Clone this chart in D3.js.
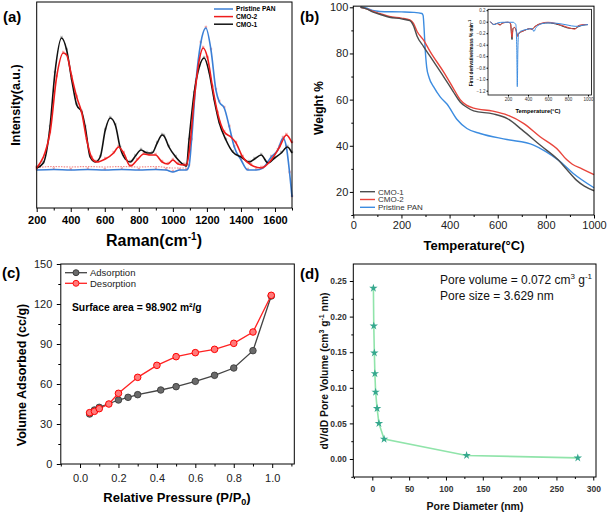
<!DOCTYPE html>
<html><head><meta charset="utf-8">
<script src="https://cdn.jsdelivr.net/npm/d3@7"></script>
<style>body{margin:0;background:#fff}svg{display:block}text{font-family:"Liberation Sans",Arial,sans-serif}</style>
</head><body><svg id="c" width="607" height="513"></svg>
<script>
// ---------- Panel (a) Raman ----------
const a_cmo1_x = [200,239,278,307,346,376,406,435,465,485,514,544,573,603,632,662,691,721,750,780,813,849,878,908,937,948,977,1017,1066,1080,1095,1125,1155,1184,1214,1243,1273,1312,1352,1401,1450,1480,1519,1559,1598,1637,1673,1700];
const a_cmo1_y = [40,45,81,135,170,158,128,103,96,81,51,46,51,78,90,83,60,49,46,52,58,55,55,65,73,72,61,51,43,42,68,115,141,150,135,108,85,68,56,51,46,49,53,45,50,55,61,55];
const a_cmo2_x = [200,278,317,356,376,406,435,465,494,524,553,603,652,681,711,750,790,829,868,898,937,970,1000,1030,1066,1080,1095,1125,1155,1178,1204,1233,1263,1302,1341,1371,1410,1460,1519,1578,1627,1667,1700];
const a_cmo2_y = [40,75,131,155,153,131,111,95,68,50,46,49,55,61,55,42,48,54,53,53,46,44,48,44,43,43,55,108,148,160,150,121,95,76,71,65,51,43,40,48,61,73,65];
const a_pan_x = [200,300,400,500,600,700,800,900,960,1000,1040,1080,1095,1110,1135,1164,1194,1224,1253,1273,1302,1332,1361,1401,1440,1490,1529,1578,1617,1647,1667,1686,1700];
const a_pan_y = [38,38.5,38,38.5,38,38.5,38,38.5,38,36,38,38,42,68,125,165,180,158,118,106,100,81,61,48,38,38,40,51,58,70,61,35,11];
const a_raw_x = [200,300,400,500,600,700,800,900,1000,1080];
const a_raw_y = [40.5,41.5,41,41.5,41,41.5,41,41.5,40,40];
const a_ticks = [200,400,600,800,1000,1200,1400,1600];
const a_minor = [300,500,700,900,1100,1300,1500,1700];
const a_legend = ["Pristine PAN","CMO-2","CMO-1"];

// ---------- Panel (b) TGA ----------
const b_T_cmo1 = [30,55,80,110,150,200,235,250,265,292,320,375,415,444,470,500,580,640,700,776,852,886,928,960,1000];
const b_W_cmo1 = [100,99.3,98,97,95.7,95,94.2,92,87.5,83,78.6,70,63.5,59,56.8,55.1,53.8,51.8,47,40.3,33.8,29.8,25,22.5,20.5];
const b_T_cmo2 = [30,55,80,110,150,200,235,250,265,292,320,375,415,444,470,500,580,640,707,776,852,886,910,950,1000];
const b_W_cmo2 = [100,99.3,98.3,97.3,96,95.3,94.5,93,89.5,85.8,80.7,72,65,60,57.6,56.3,55,53.3,49.7,43.9,38.1,34,32,30,27.5];
const b_T_pan = [30,50,80,110,200,250,285,290,294,298,305,315,334,361,390,430,472,527,638,749,800,852,914,1000];
const b_W_pan = [100,99.8,98.6,98.2,98,97.8,97.3,96.5,91,83,74,69.5,65.5,61.2,58,51.5,47.5,45.3,42.7,40.3,37.5,33.8,28,21.8];
const b_xticks = [0,200,400,600,800,1000];
const b_xminor = [100,300,500,700,900];
const b_yticks = [20,40,60,80,100];
const b_yminor = [10,30,50,70,90];
const b_legend = ["CMO-1","CMO-2","Pristine PAN"];

// ---------- Inset (DTG) ----------
const i_T_pan = [25,60,100,150,200,250,278,288,293,298,305,315,350,400,440,460,480,550,600,700,800,870,900,950,1000];
const i_D_pan = [0,-0.05,-0.02,-0.01,-0.01,-0.01,-0.05,-0.5,-1.13,-0.55,-0.22,-0.18,-0.15,-0.13,-0.12,-0.17,-0.1,-0.03,-0.02,-0.03,-0.06,-0.08,-0.08,-0.06,-0.05];
const i_T_cmo = [25,60,90,120,150,200,225,240,250,265,280,296,310,340,380,420,440,460,500,600,700,800,870,900,950,1000];
const i_D_cmo2 = [0,-0.05,-0.03,-0.06,-0.02,-0.01,-0.03,-0.27,-0.12,-0.1,-0.15,-0.26,-0.2,-0.17,-0.14,-0.12,-0.14,-0.1,-0.05,-0.01,-0.04,-0.1,-0.13,-0.07,-0.05,-0.05];
const i_D_cmo1 = [0,-0.05,-0.03,-0.05,-0.02,-0.01,-0.03,-0.31,-0.12,-0.1,-0.14,-0.24,-0.2,-0.17,-0.14,-0.12,-0.13,-0.1,-0.05,-0.02,-0.05,-0.11,-0.12,-0.09,-0.06,-0.05];
const i_xticks = [200,400,600,800,1000];
const i_yticks = [0.2,0,-0.2,-0.4,-0.6,-0.8,-1.0,-1.2];

// ---------- Panel (c) BET ----------
const c_ads_x = [0.05,0.075,0.1,0.2,0.25,0.3,0.42,0.5,0.6,0.7,0.8,0.9,0.995];
const c_ads_y = [37.5,40.5,42.5,48,50,52,55.5,58,62,66.5,72,85,126];
const c_des_x = [0.05,0.075,0.1,0.15,0.2,0.3,0.4,0.5,0.6,0.7,0.8,0.9,0.995];
const c_des_y = [38.5,39.5,41.5,45,53,65,74,80.5,83.5,86,90.5,99,126.5];
const c_xticks = [0,0.2,0.4,0.6,0.8,1.0];
const c_xminor = [-0.1,0.1,0.3,0.5,0.7,0.9,1.1];
const c_yticks = [0,30,60,90,120,150];
const c_yminor = [15,45,75,105,135];
const c_legend = ["Adsorption","Desorption"];

// ---------- Panel (d) Pore size ----------
const d_x = [1.5,2,2.8,3.5,4.5,6.5,9,16,128,279];
const d_y = [0.24,0.187,0.149,0.12,0.094,0.071,0.05,0.028,0.005,0.0015];
const d_xticks = [0,50,100,150,200,250,300];
const d_xminor = [-25,25,75,125,175,225,275];
const d_yticks = [0,0.05,0.10,0.15,0.20,0.25];
const d_yminor = [-0.025,0.025,0.075,0.125,0.175,0.225];

const svg = d3.select("#c");
const FF = '"Liberation Sans",Arial,sans-serif';
const zip = (xs, ys) => xs.map((x,i)=>[x, ys[i]]);

function frame(x0,y0,x1,y1,w=1){
  svg.append("rect").attr("x",x0).attr("y",y0).attr("width",x1-x0).attr("height",y1-y0)
    .attr("fill","none").attr("stroke","#000").attr("stroke-width",w);
}
function styleAxis(g, fs, bold, color){
  g.select(".domain").remove();
  g.attr("font-family",FF).attr("font-size",fs).attr("font-weight",bold?"bold":"normal");
  g.selectAll("line").attr("stroke","#000");
  g.selectAll("text").attr("fill",color);
}
function axisB(scale, y, major, minor, fmt, fs, bold, color, tlen, mlen, pad){
  const g1 = svg.append("g").attr("transform",`translate(0,${y})`)
    .call(d3.axisBottom(scale).tickValues(minor).tickSize(mlen).tickFormat(""));
  styleAxis(g1, fs, bold, color);
  const g2 = svg.append("g").attr("transform",`translate(0,${y})`)
    .call(d3.axisBottom(scale).tickValues(major).tickSize(tlen).tickPadding(pad).tickFormat(fmt));
  styleAxis(g2, fs, bold, color);
  return g2;
}
function axisL(scale, x, major, minor, fmt, fs, bold, color, tlen, mlen, pad){
  const g1 = svg.append("g").attr("transform",`translate(${x},0)`)
    .call(d3.axisLeft(scale).tickValues(minor).tickSize(mlen).tickFormat(""));
  styleAxis(g1, fs, bold, color);
  const g2 = svg.append("g").attr("transform",`translate(${x},0)`)
    .call(d3.axisLeft(scale).tickValues(major).tickSize(tlen).tickPadding(pad).tickFormat(fmt));
  styleAxis(g2, fs, bold, color);
  return g2;
}
function txt(x,y,s,fs,bold,anchor="start",color="#000"){
  return svg.append("text").attr("x",x).attr("y",y).attr("font-size",fs)
    .attr("font-weight",bold?"bold":"normal").attr("text-anchor",anchor).attr("fill",color).text(s);
}
function rtxt(x,y,fs,bold,color="#000"){
  return svg.append("text").attr("transform",`translate(${x},${y}) rotate(-90)`)
    .attr("font-size",fs).attr("font-weight",bold?"bold":"normal").attr("text-anchor","middle").attr("fill",color);
}

// ================= Panel (a) =================
{
  const x = d3.scaleLinear([200,1700],[36.7,292]);
  const y = d3.scaleLinear([0,206],[208,2]);
  const line = d3.line().x(d=>x(d[0])).y(d=>y(d[1])).curve(d3.curveMonotoneX);
  const rawBase = zip(a_raw_x,a_raw_y);
  svg.append("path").attr("d",line(rawBase)).attr("fill","none").attr("stroke","#f28a8a").attr("stroke-width",1.2).attr("stroke-dasharray","1.5,1.2");
  const series = [
    {x:a_pan_x,y:a_pan_y,c:"#3b7fd6",m:"#f3a0a0"},
    {x:a_cmo1_x,y:a_cmo1_y,c:"#111111",m:"#b8b8b8"},
    {x:a_cmo2_x,y:a_cmo2_y,c:"#ee1c1c",m:"#f5a3a3"}
  ];
  series.forEach(s=>{
    const pts = zip(s.x,s.y);
    svg.append("g").selectAll("path").data(pts).join("path")
      .attr("d",d3.symbol(d3.symbolCross,5)()).attr("transform",d=>`translate(${x(d[0])},${y(d[1])-1}) rotate(45)`)
      .attr("fill",s.m);
  });
  series.forEach(s=>{
    svg.append("path").attr("d",line(zip(s.x,s.y))).attr("fill","none").attr("stroke",s.c).attr("stroke-width",1.6);
  });
  frame(36.7,2,292,208);
  axisB(x,208,a_ticks,a_minor,d3.format("d"),11,true,"#000",4,2.5,4);
  // legend
  const lc = ["#3b7fd6","#ee1c1c","#111111"];
  a_legend.forEach((n,i)=>{
    const yy = 9 + i*7.6;
    svg.append("line").attr("x1",214).attr("x2",233).attr("y1",yy).attr("y2",yy).attr("stroke",lc[i]).attr("stroke-width",1.5);
    txt(236,yy+2.4,n,6.6,true);
  });
  rtxt(20,105,12.5,true).text("Intensity(a.u.)");
  const t = txt(154,246,"Raman(cm",16,true,"middle");
  t.append("tspan").attr("dy",-6).attr("font-size",10).text("-1");
  t.append("tspan").attr("dy",6).text(")");
  txt(3,22,"(a)",15,true);
}

// ================= Panel (b) =================
{
  const x = d3.scaleLinear([0,1000],[353.3,594]);
  const y = d3.scaleLinear([10,100.5],[215,6.15]);
  const line = d3.line().x(d=>x(d[0])).y(d=>y(d[1])).curve(d3.curveMonotoneX);
  const cols = {c1:"#4d4d4d",c2:"#e8453c",pan:"#3c8ce0"};
  svg.append("path").attr("d",line(zip(b_T_pan,b_W_pan))).attr("fill","none").attr("stroke",cols.pan).attr("stroke-width",1.4);
  svg.append("path").attr("d",line(zip(b_T_cmo2,b_W_cmo2))).attr("fill","none").attr("stroke",cols.c2).attr("stroke-width",1.4);
  svg.append("path").attr("d",line(zip(b_T_cmo1,b_W_cmo1))).attr("fill","none").attr("stroke",cols.c1).attr("stroke-width",1.4);
  frame(353.3,6.15,594,215);
  axisB(x,215,b_xticks,b_xminor,d3.format("d"),11,false,"#222",3.5,2,3);
  axisL(y,353.3,b_yticks,b_yminor,d3.format("d"),11,false,"#222",3.5,2,1.5);
  const lc=[cols.c1,cols.c2,cols.pan];
  b_legend.forEach((n,i)=>{
    const yy = 191.7 + i*7.8;
    svg.append("line").attr("x1",360).attr("x2",375).attr("y1",yy).attr("y2",yy).attr("stroke",lc[i]).attr("stroke-width",1.4);
    txt(378,yy+2.8,n,8,false,"start","#333");
  });
  rtxt(323,108,12,true).text("Weight %");
  txt(474,250,"Temperature(°C)",13,true,"middle");
  txt(300,22,"(b)",15,true);

  // inset
  const xi = d3.scaleLinear([0,1035],[488,591.5]);
  const yi = d3.scaleLinear([-1.275,0.2157],[95,9.3]);
  svg.append("rect").attr("x",488).attr("y",9.3).attr("width",103.5).attr("height",85.7).attr("fill","#fff");
  const li = d3.line().x(d=>xi(d[0])).y(d=>yi(d[1])).curve(d3.curveMonotoneX);
  svg.append("path").attr("d",li(zip(i_T_cmo,i_D_cmo1))).attr("fill","none").attr("stroke","#333").attr("stroke-width",1);
  svg.append("path").attr("d",li(zip(i_T_cmo,i_D_cmo2))).attr("fill","none").attr("stroke",cols.c2).attr("stroke-width",1);
  svg.append("path").attr("d",li(zip(i_T_pan,i_D_pan))).attr("fill","none").attr("stroke",cols.pan).attr("stroke-width",1);
  frame(488,9.3,591.5,95,0.8);
  axisB(xi,95,i_xticks,[],d3.format("d"),4.5,false,"#333",1.5,1,1.5);
  axisL(yi,488,i_yticks,[],d3.format(".1f"),4.5,false,"#333",1.5,1,1);
  txt(538,113,"Temperature(°C)",5.8,true,"middle");
  const ti = rtxt(473,53,4.8,true);
  ti.text("First derivative/mass % min");
  ti.append("tspan").attr("dy",-1.8).attr("font-size",3.5).text("-1");
}

// ================= Panel (c) =================
{
  const x = d3.scaleLinear([-0.1,1.115],[60.8,294.3]);
  const y = d3.scaleLinear([0,150],[464,264]);
  const line = d3.line().x(d=>x(d[0])).y(d=>y(d[1]));
  const ads = zip(c_ads_x,c_ads_y), des = zip(c_des_x,c_des_y);
  svg.append("path").attr("d",line(ads)).attr("fill","none").attr("stroke","#444").attr("stroke-width",1.3);
  svg.append("path").attr("d",line(des)).attr("fill","none").attr("stroke","#f22").attr("stroke-width",1.3);
  svg.append("g").selectAll("circle").data(ads).join("circle").attr("cx",d=>x(d[0])).attr("cy",d=>y(d[1])).attr("r",3.3)
    .attr("fill","#6a6a6a").attr("stroke","#333").attr("stroke-width",0.8);
  svg.append("g").selectAll("circle").data(des).join("circle").attr("cx",d=>x(d[0])).attr("cy",d=>y(d[1])).attr("r",3.3)
    .attr("fill","#ff7a7a").attr("stroke","#f00").attr("stroke-width",1);
  frame(60.8,264,294.3,464);
  axisB(x,464,c_xticks,c_xminor,d3.format(".1f"),11,false,"#222",4,2.5,6);
  axisL(y,60.8,c_yticks,c_yminor,d3.format("d"),11,false,"#222",4,2.5,4.5);
  const lc = [["#444","#6a6a6a","#333"],["#f22","#ff7a7a","#f00"]];
  c_legend.forEach((n,i)=>{
    const yy = 272.7 + i*10.6;
    svg.append("line").attr("x1",65).attr("x2",87).attr("y1",yy).attr("y2",yy).attr("stroke",lc[i][0]).attr("stroke-width",1.3);
    svg.append("circle").attr("cx",76).attr("cy",yy).attr("r",3).attr("fill",lc[i][1]).attr("stroke",lc[i][2]).attr("stroke-width",0.9);
    txt(90,yy+3.3,n,9.5,false,"start","#222");
  });
  txt(72,311,"Surface area = 98.902 m²/g",10.3,true);
  rtxt(26,375,12.5,true).text("Volume Adsorbed (cc/g)");
  const t = txt(177,502,"Relative Pressure (P/P",13,true,"middle");
  t.append("tspan").attr("dy",3).attr("font-size",9).text("0");
  t.append("tspan").attr("dy",-3).text(")");
  txt(2,278,"(c)",15,true);
}

// ================= Panel (d) =================
{
  const x = d3.scaleLinear([-25.8,303.7],[353.3,596]);
  const y = d3.scaleLinear([-0.0253,0.2739],[477,264]);
  const pts = zip(d_x,d_y);
  svg.append("path").attr("d",d3.line().x(d=>x(d[0])).y(d=>y(d[1]))(pts)).attr("fill","none").attr("stroke","#90e4aa").attr("stroke-width",1.6);
  svg.append("g").selectAll("path").data(pts).join("path").attr("d",d3.symbol(d3.symbolStar,22)())
    .attr("transform",d=>`translate(${x(d[0])},${y(d[1])})`).attr("fill","#36a88e");
  frame(353.3,264,596,477);
  axisB(x,477,d_xticks,d_xminor,d3.format("d"),8.5,true,"#333",3.5,2,5);
  axisL(y,353.3,d_yticks,d_yminor,d3.format(".2f"),8.5,true,"#333",3.5,2,3);
  const t1 = txt(440,284,"Pore volume = 0.072 cm",12,false,"start","#111");
  t1.append("tspan").attr("dy",-5).attr("font-size",8).text("3");
  t1.append("tspan").attr("dy",5).text(" g");
  t1.append("tspan").attr("dy",-5).attr("font-size",8).text("-1");
  txt(440,300,"Pore size = 3.629 nm",12,false,"start","#111");
  const ty = rtxt(328,371,10.3,true,"#111");
  ty.text("dV/dD Pore Volume (cm");
  ty.append("tspan").attr("dy",-4).attr("font-size",7).text("3");
  ty.append("tspan").attr("dy",4).text(" g");
  ty.append("tspan").attr("dy",-4).attr("font-size",7).text("-1");
  ty.append("tspan").attr("dy",4).text(" nm)");
  txt(475,510,"Pore Diameter (nm)",10.5,true,"middle","#111");
  txt(300,279,"(d)",15,true);
}
</script></body></html>
